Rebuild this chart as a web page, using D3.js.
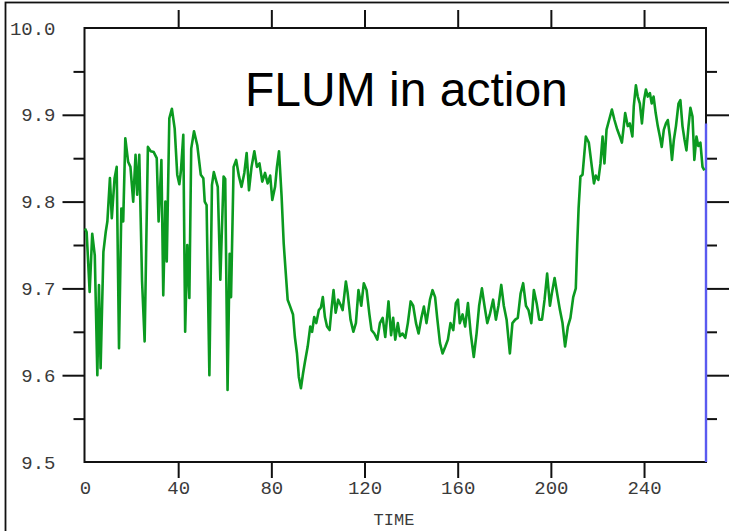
<!DOCTYPE html>
<html>
<head>
<meta charset="utf-8">
<script src="https://cdn.jsdelivr.net/npm/d3@7"></script>
<style>
  html, body { margin: 0; padding: 0; background: #fff; }
  svg { display: block; }
</style>
</head>
<body>
<svg id="chart" width="729" height="531"></svg>
<script>
// ---- data ----
const timeValues = [0,0.7,2,3.1,4.2,5.3,6,6.7,7.9,8.9,9.6,10.7,11.5,12.7,13.6,14.6,15.6,16.4,17.3,18.5,19.5,20.7,21.7,22.4,23.3,24.5,25.6,27,28.2,29.5,30.8,31.6,32.8,33.6,34.5,35.1,36.2,37.3,38.5,39.6,40.5,41.2,42.2,43,43.9,44.8,45.6,46.8,48.2,49.7,50.8,51.4,52.2,53.4,54.5,55.3,57,58.1,59.5,60.2,61.2,62.1,62.7,63.8,64.9,66.1,67.2,68.4,69.4,70.4,71.5,72.7,73.8,74.9,76.1,77.3,78.4,79.5,80.4,81.6,82.4,83.3,84.4,85.3,86.1,87,88.1,89.3,90.1,91,91.8,92.7,93.6,94.4,95.6,96.7,97.5,98.4,99.3,100.4,101.3,102.1,103,103.9,105,105.9,106.7,107.6,108.7,109.9,110.6,112,112.7,114,115.2,116.3,117.4,118.6,119.7,120.9,122.1,123,124.2,125.5,126.6,127.8,128.9,130.3,131.4,132.3,133.2,134.3,135.2,136.3,137.5,138.6,139.8,140.9,142.1,143.2,144.4,145.5,146.6,148.1,149.2,150.3,151.2,152.4,153.5,154.7,155.8,156.9,158.1,159.2,160.1,160.9,162.1,163.2,164.4,165.6,166.9,168.1,169.2,170.4,171.5,172.7,173.8,175.2,176.4,177.5,178.7,179.8,181,182.4,183.5,184.7,185.8,187,188.1,189.3,190.4,191.6,192.7,193.9,195,196.2,197.3,198.4,199.6,200.4,201.6,202.7,203.9,205,206.1,207.3,208.4,209.6,210.7,211.3,211.9,212.7,213.6,215,216.3,217.6,218.5,219.3,220.4,221.3,222.2,223,223.9,225,226.2,227.3,228.5,229.6,230.5,231.3,231.9,233,233.9,235,235.6,236.5,237.3,238.2,239.1,240,240.8,241.6,242.5,243.3,244.1,245,245.9,246.8,247.6,248.5,249.4,250.2,251.1,252,252.8,253.7,254.8,255.6,256.5,257.4,258.2,259.1,259.9,260.8,261.6,262.5,263.3,264.2,265.1,265.9];
const flumValues = [9.769,9.765,9.696,9.763,9.738,9.600,9.704,9.608,9.742,9.765,9.777,9.827,9.781,9.827,9.840,9.631,9.792,9.777,9.873,9.846,9.840,9.800,9.854,9.808,9.854,9.708,9.639,9.863,9.858,9.857,9.850,9.777,9.848,9.692,9.800,9.731,9.896,9.907,9.884,9.831,9.820,9.836,9.877,9.650,9.750,9.689,9.861,9.881,9.865,9.831,9.827,9.800,9.796,9.600,9.819,9.834,9.817,9.710,9.829,9.826,9.583,9.740,9.690,9.840,9.848,9.829,9.817,9.833,9.856,9.813,9.840,9.858,9.840,9.844,9.823,9.833,9.821,9.830,9.802,9.817,9.840,9.858,9.806,9.752,9.721,9.687,9.679,9.670,9.644,9.625,9.598,9.585,9.602,9.615,9.633,9.656,9.650,9.667,9.660,9.675,9.678,9.690,9.667,9.656,9.652,9.678,9.698,9.672,9.687,9.680,9.675,9.708,9.696,9.664,9.650,9.660,9.698,9.680,9.706,9.698,9.670,9.652,9.648,9.641,9.660,9.666,9.644,9.685,9.646,9.666,9.641,9.660,9.645,9.648,9.643,9.660,9.685,9.680,9.660,9.648,9.666,9.679,9.660,9.687,9.698,9.690,9.666,9.637,9.625,9.633,9.641,9.660,9.652,9.683,9.687,9.660,9.670,9.656,9.683,9.648,9.621,9.648,9.680,9.700,9.680,9.660,9.670,9.687,9.664,9.680,9.704,9.680,9.664,9.625,9.660,9.664,9.666,9.694,9.706,9.680,9.675,9.660,9.698,9.683,9.664,9.664,9.687,9.717,9.680,9.694,9.712,9.694,9.675,9.660,9.633,9.656,9.666,9.690,9.700,9.750,9.792,9.829,9.831,9.875,9.868,9.840,9.821,9.830,9.825,9.844,9.875,9.844,9.883,9.894,9.906,9.894,9.883,9.875,9.868,9.887,9.902,9.887,9.890,9.875,9.910,9.934,9.921,9.913,9.890,9.917,9.929,9.921,9.925,9.913,9.921,9.902,9.887,9.875,9.863,9.883,9.890,9.894,9.875,9.848,9.871,9.887,9.913,9.917,9.887,9.871,9.859,9.887,9.908,9.898,9.848,9.875,9.864,9.868,9.840,9.836];
const blueSegment = [9.89, 9.5];          // vertical blue line at the right end
const xLabelTicks = [0, 40, 80, 120, 160, 200, 240];
const xMarkTicks = [40, 80, 120, 160, 200, 240];
const yLabelTicks = [9.5, 9.6, 9.7, 9.8, 9.9, 10.0];
const yMajorMarks = [9.6, 9.7, 9.8, 9.9];
const yMinorMarks = [9.55, 9.65, 9.75, 9.85, 9.95];
const xDomain = [0, 266.6];
const yDomain = [9.5, 10.0];
const titleText = "FLUM in action";
const xAxisTitle = "TIME";

// ---- layout ----
const plotLeft = 84.5, plotRight = 706, plotTop = 28, plotBottom = 462;
const svg = d3.select("#chart");

const x = d3.scaleLinear().domain(xDomain).range([plotLeft + 0.5, plotRight]);
const y = d3.scaleLinear().domain(yDomain).range([plotBottom, plotTop]);

// outer border (only top and left edges fall inside the picture)
svg.append("rect")
  .attr("x", 5.5).attr("y", 2.5).attr("width", 730).attr("height", 600)
  .attr("fill", "none").attr("stroke", "#111").attr("stroke-width", 1.8);

const labelFont = "'Liberation Mono', 'DejaVu Sans Mono', monospace";

function styleAxis(g, width) {
  g.select(".domain").remove();
  g.selectAll(".tick line").attr("stroke", "#111").attr("stroke-width", width);
  g.selectAll(".tick text")
    .attr("font-family", labelFont).attr("font-size", 19).attr("fill", "#3a3a3a");
}

// left: labels
svg.append("g").attr("transform", `translate(${plotLeft},0)`)
  .call(d3.axisLeft(y).tickValues(yLabelTicks).tickSize(0).tickPadding(29).tickFormat(d3.format(".1f")))
  .call(g => styleAxis(g, 2));
// left: major / minor marks
svg.append("g").attr("transform", `translate(${plotLeft},0)`)
  .call(d3.axisLeft(y).tickValues(yMajorMarks).tickSize(22).tickFormat(""))
  .call(g => styleAxis(g, 2));
svg.append("g").attr("transform", `translate(${plotLeft},0)`)
  .call(d3.axisLeft(y).tickValues(yMinorMarks).tickSize(11).tickFormat(""))
  .call(g => styleAxis(g, 2));
// right marks
svg.append("g").attr("transform", `translate(${plotRight},0)`)
  .call(d3.axisRight(y).tickValues(yMajorMarks).tickSize(23).tickFormat(""))
  .call(g => styleAxis(g, 2));
svg.append("g").attr("transform", `translate(${plotRight},0)`)
  .call(d3.axisRight(y).tickValues(yMinorMarks).tickSize(11).tickFormat(""))
  .call(g => styleAxis(g, 2));
// bottom labels
svg.append("g").attr("transform", `translate(0,${plotBottom})`)
  .call(d3.axisBottom(x).tickValues(xLabelTicks).tickSize(0).tickPadding(19).tickFormat(d3.format("d")))
  .call(g => styleAxis(g, 2));
// bottom marks
svg.append("g").attr("transform", `translate(0,${plotBottom})`)
  .call(d3.axisBottom(x).tickValues(xMarkTicks).tickSize(16).tickFormat(""))
  .call(g => styleAxis(g, 2));
// top marks
svg.append("g").attr("transform", `translate(0,${plotTop})`)
  .call(d3.axisTop(x).tickValues(xMarkTicks).tickSize(18).tickFormat(""))
  .call(g => styleAxis(g, 2));

// frame
svg.append("rect")
  .attr("x", plotLeft).attr("y", plotTop).attr("width", plotRight - plotLeft).attr("height", plotBottom - plotTop)
  .attr("fill", "none").attr("stroke", "#111").attr("stroke-width", 2);

// blue vertical segment
svg.append("line")
  .attr("x1", x(xDomain[1])).attr("x2", x(xDomain[1]))
  .attr("y1", y(blueSegment[0])).attr("y2", y(blueSegment[1]))
  .attr("stroke", "#5a5af0").attr("stroke-width", 2.4);

// data line
const data = timeValues.map((t, i) => ({ t, v: flumValues[i] }));
svg.append("path")
  .datum(data)
  .attr("fill", "none")
  .attr("stroke", "#0b9a20")
  .attr("stroke-width", 2.6)
  .attr("stroke-linejoin", "round")
  .attr("d", d3.line().x(d => x(d.t)).y(d => y(d.v)));

// title in plot
svg.append("text")
  .attr("x", 245).attr("y", 106)
  .attr("font-family", "'Liberation Sans', Arial, sans-serif")
  .attr("font-size", 48)
  .attr("fill", "#000")
  .text(titleText);

// x axis title
svg.append("text")
  .attr("x", 394).attr("y", 525)
  .attr("text-anchor", "middle")
  .attr("font-family", labelFont)
  .attr("font-size", 17)
  .attr("fill", "#3a3a3a")
  .text(xAxisTitle);
</script>
</body>
</html>
